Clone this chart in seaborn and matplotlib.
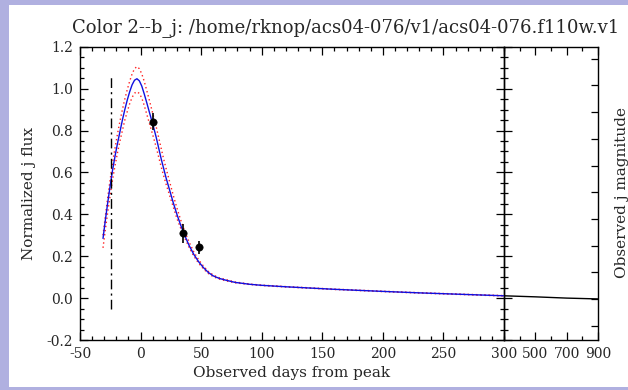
import numpy as np
import pandas as pd
import matplotlib
matplotlib.use("Agg")
import matplotlib.pyplot as plt
import seaborn as sns
from matplotlib.patches import Rectangle
from matplotlib.ticker import MultipleLocator, FixedLocator, NullFormatter

# ---------------- data ----------------
title = "Color 2--b_j: /home/rknop/acs04-076/v1/acs04-076.f110w.v1"
xlabel = "Observed days from peak"
ylabel = "Normalized j flux"
ylabel_right = "Observed j magnitude"

model_days = [-31, -29, -27, -25, -23, -21, -19, -17, -15, -13, -11, -9, -7, -5, -3, -1,
              1, 3, 5, 7, 9, 11, 13, 15, 17, 19, 21, 24, 27, 30, 33, 36, 40, 44, 48,
              52, 56, 60, 65, 70, 78, 90, 100, 120, 140, 160, 180, 200, 230, 260, 300]
model_flux = [0.285, 0.375, 0.46, 0.54, 0.615, 0.68, 0.74, 0.795, 0.85, 0.90, 0.945, 0.985,
              1.018, 1.04, 1.047, 1.037, 1.012, 0.975, 0.935, 0.893, 0.852, 0.81, 0.765,
              0.715, 0.665, 0.62, 0.575, 0.515, 0.455, 0.40, 0.35, 0.305, 0.252, 0.208,
              0.173, 0.145, 0.122, 0.106, 0.094, 0.086, 0.075, 0.066, 0.061, 0.054,
              0.048, 0.042, 0.037, 0.032, 0.025, 0.019, 0.011]
upper_flux = [0.30, 0.395, 0.485, 0.57, 0.65, 0.72, 0.785, 0.845, 0.90, 0.95, 0.995, 1.035,
              1.07, 1.095, 1.105, 1.095, 1.07, 1.035, 0.993, 0.95, 0.905, 0.86, 0.815,
              0.765, 0.715, 0.665, 0.62, 0.555, 0.49, 0.43, 0.375, 0.325, 0.268, 0.22,
              0.182, 0.152, 0.127, 0.11, 0.097, 0.089, 0.077, 0.067, 0.062, 0.055,
              0.049, 0.043, 0.038, 0.033, 0.026, 0.020, 0.012]
lower_flux = [0.24, 0.33, 0.415, 0.495, 0.57, 0.635, 0.695, 0.75, 0.80, 0.85, 0.89, 0.928,
              0.958, 0.978, 0.985, 0.977, 0.955, 0.92, 0.88, 0.84, 0.80, 0.76, 0.718,
              0.672, 0.627, 0.585, 0.545, 0.49, 0.435, 0.38, 0.335, 0.293, 0.243, 0.2,
              0.166, 0.139, 0.117, 0.102, 0.091, 0.083, 0.073, 0.065, 0.060, 0.053,
              0.047, 0.041, 0.036, 0.031, 0.024, 0.018, 0.010]

obs_days = [10, 35, 48]
obs_flux = [0.842, 0.309, 0.242]
obs_err = [0.04, 0.045, 0.032]

peak_marker_day = -24
peak_marker_range = [-0.05, 1.07]

late_days = [300, 500, 700, 900]
late_flux = [0.011, 0.006, 0.000, -0.004]

# ---------------- style ----------------
sns.set_style("ticks")
plt.rcParams['font.family'] = ['DejaVu Serif']
plt.rcParams['axes.unicode_minus'] = False

W, H = 628, 390
fig = plt.figure(figsize=(W / 100, H / 100), dpi=100, facecolor='#b0b0e0')
fig.patches.append(Rectangle((9 / W, 3 / H), 619 / W, 382 / H, transform=fig.transFigure,
                             facecolor='white', edgecolor='none', zorder=-10))

left, brk, right = 80, 504, 598
top, bot = 46.7, 340
ax = fig.add_axes([left / W, (H - bot) / H, (brk - left) / W, (bot - top) / H])
ax2 = fig.add_axes([brk / W, (H - bot) / H, (right - brk) / W, (bot - top) / H])
for a in (ax, ax2):
    a.set_zorder(2)
    a.set_facecolor('none')
    for s in a.spines.values():
        s.set_linewidth(1.0)
        s.set_color('black')

df = pd.DataFrame({'day': model_days, 'model': model_flux,
                   'upper': upper_flux, 'lower': lower_flux})

sns.lineplot(data=df, x='day', y='upper', ax=ax, color='#ff2020', lw=1.0,
             linestyle=(0, (1, 2)), sort=False, zorder=2)
sns.lineplot(data=df, x='day', y='lower', ax=ax, color='#ff2020', lw=1.0,
             linestyle=(0, (1, 2)), sort=False, zorder=2)
sns.lineplot(data=df, x='day', y='model', ax=ax, color='#1010e0', lw=1.0,
             sort=False, zorder=3)
ax.plot([peak_marker_day, peak_marker_day], peak_marker_range, color='black',
        lw=1.0, linestyle=(0, (7, 3, 1.5, 3)), zorder=3)
ax.errorbar(obs_days, obs_flux, yerr=obs_err, fmt='none', ecolor='black',
            elinewidth=1.2, capsize=0, zorder=4)
sns.scatterplot(x=obs_days, y=obs_flux, ax=ax, color='black', s=28,
                edgecolor='black', zorder=5)

sns.lineplot(x=late_days, y=late_flux, ax=ax2, color='black', lw=1.0)

# ---------------- axes ----------------
ax.set_xlim(-50, 300)
ax.set_ylim(-0.2, 1.2)
ax2.set_xlim(300, 900)
ax2.set_ylim(-0.2, 1.2)

ax.xaxis.set_major_locator(FixedLocator([-50, 0, 50, 100, 150, 200, 250]))
ax.xaxis.set_minor_locator(MultipleLocator(10))
ax.yaxis.set_major_locator(FixedLocator([-0.2, 0.0, 0.2, 0.4, 0.6, 0.8, 1.0, 1.2]))
ax.yaxis.set_minor_locator(MultipleLocator(0.05))
ax.set_yticklabels(["-0.2", "0.0", "0.2", "0.4", "0.6", "0.8", "1.0", "1.2"])

ax2.xaxis.set_major_locator(FixedLocator([300, 500, 700, 900]))
ax2.xaxis.set_minor_locator(MultipleLocator(100))
ax2.yaxis.set_major_locator(MultipleLocator(0.2))
ax2.yaxis.set_minor_locator(MultipleLocator(0.05))
ax2.yaxis.set_major_formatter(NullFormatter())

for a in (ax, ax2):
    a.tick_params(which='both', direction='in', top=True, bottom=True,
                  labelsize=10, pad=5, width=0.9, color='black')
    a.tick_params(which='major', length=6)
    a.tick_params(which='minor', length=3)
ax.tick_params(axis='y', which='both', left=True, right=True)
ax2.tick_params(axis='y', which='both', left=True, right=False, labelleft=False)

# magnitude axis on the right
ax3 = ax2.twinx()
ax3.set_zorder(3)
ax3.set_ylim(29.536, 18.55)
ax3.yaxis.set_major_locator(MultipleLocator(1))
ax3.yaxis.set_major_formatter(NullFormatter())
ax3.tick_params(axis='y', direction='in', length=5, width=0.9, color='black')
for s in ax3.spines.values():
    s.set_visible(False)

ax.set_xlabel(xlabel, fontsize=11)
ax.xaxis.set_label_coords(0.5, -0.113)
ax.xaxis.label.set_va('center')
ax.set_ylabel(ylabel, fontsize=11)
ax.yaxis.set_label_coords((29 - left) / (brk - left), 0.5)
ax.yaxis.label.set_va('center')

fig.text(622 / W, 1 - 192 / H, ylabel_right, rotation=90, ha='center', va='center',
         fontsize=11)
fig.text(346 / W, 1 - 28 / H, title, ha='center', va='center', fontsize=13)

fig.savefig('out.png', dpi=100, facecolor=fig.get_facecolor())
